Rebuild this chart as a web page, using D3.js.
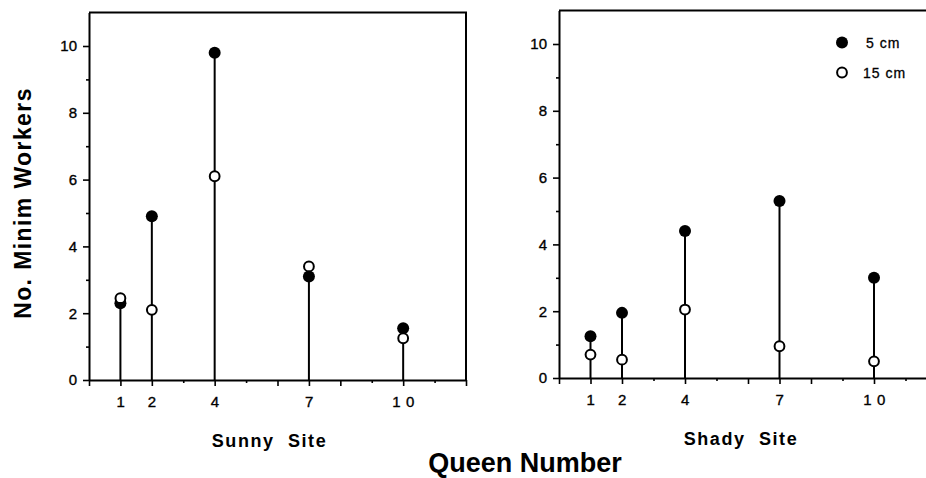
<!DOCTYPE html>
<html>
<head>
<meta charset="utf-8">
<script src="https://cdn.jsdelivr.net/npm/d3@7"></script>
<style>
  body { margin: 0; background: #fff; }
  text { font-family: "Liberation Sans", Arial, Helvetica, sans-serif; fill: #000; }
</style>
</head>
<body>
<svg width="926" height="478"></svg>
<script>
// queen numbers on the x axis, and the minim worker counts
var queens = [1, 2, 4, 7, 10];
var queenLabels = ["1", "2", "4", "7", "1 0"];
var sunny5 = [2.3, 4.9, 9.8, 3.1, 1.55];
var sunny15 = [2.45, 2.1, 6.1, 3.4, 1.25];
var shady5 = [1.25, 1.95, 4.4, 5.3, 3.0];
var shady15 = [0.7, 0.55, 2.05, 0.95, 0.5];
var yLabelTicks = [0, 2, 4, 6, 8, 10];
var legendLabels = ["5 cm", "15 cm"];

var svg = d3.select("svg");

function panel(opts){
    var x = d3.scaleLinear().domain([0, 12]).range([opts.x0, opts.x1]),
        y = d3.scaleLinear().domain([0, 11]).range([opts.y0, opts.y0 - 11 * opts.unit]);
    var g = svg.append("g");

    var allX = d3.range(0, 13),
        longX = allX.filter(function(d){ return d % 2 == 0 || queens.indexOf(d) >= 0 }),
        shortX = allX.filter(function(d){ return longX.indexOf(d) < 0 }),
        minorY = d3.range(1, 11, 2);

    // box: top and right edge
    g.append("path")
        .attr("d", "M" + x(0) + "," + y(11) + "H" + x(12) + "V" + y(0))
        .attr("fill", "none").attr("stroke", "#000").attr("stroke-width", 2);

    var xAx = g.append("g").attr("transform", "translate(0," + y(0) + ")")
        .call(d3.axisBottom(x).tickValues(longX).tickSize(6).tickSizeOuter(0)
            .tickFormat(function(d){ var i = queens.indexOf(d); return i >= 0 ? queenLabels[i] : "" }).tickPadding(10));
    g.append("g").attr("transform", "translate(0," + y(0) + ")")
        .call(d3.axisBottom(x).tickValues(shortX).tickSize(3).tickFormat(""))
        .select(".domain").remove();

    var yAx = g.append("g").attr("transform", "translate(" + x(0) + ",0)")
        .call(d3.axisLeft(y).tickValues(yLabelTicks).tickSize(6).tickSizeOuter(0).tickPadding(6));
    g.append("g").attr("transform", "translate(" + x(0) + ",0)")
        .call(d3.axisLeft(y).tickValues(minorY).tickSize(3).tickFormat(""))
        .select(".domain").remove();

    g.selectAll(".domain").attr("stroke-width", 2);
    g.selectAll(".tick line").attr("stroke-width", 1.6);
    g.selectAll(".tick text")
        .style("font-size", "15px").attr("stroke", "#000").attr("stroke-width", 0.35)
        .style("font-family", "Liberation Sans, Arial, sans-serif");
    xAx.selectAll(".tick text").attr("dy", "0.71em").attr("letter-spacing", 0.6);

    var rows = queens.map(function(q, i){ return { q: q, a: opts.v5[i], b: opts.v15[i] } });

    g.selectAll(".stem").data(rows).enter().append("line")
        .attr("x1", function(d){ return x(d.q) }).attr("x2", function(d){ return x(d.q) })
        .attr("y1", y(0)).attr("y2", function(d){ return y(Math.max(d.a, d.b)) })
        .attr("stroke", "#000").attr("stroke-width", 2);

    g.selectAll(".full").data(rows).enter().append("circle")
        .attr("cx", function(d){ return x(d.q) }).attr("cy", function(d){ return y(d.a) })
        .attr("r", 6).attr("fill", "#000");
    g.selectAll(".open").data(rows).enter().append("circle")
        .attr("cx", function(d){ return x(d.q) }).attr("cy", function(d){ return y(d.b) })
        .attr("r", 4.9).attr("fill", "#fff").attr("stroke", "#000").attr("stroke-width", 2);

    g.append("text")
        .attr("x", (x(0) + x(12)) / 2 + opts.titleShift).attr("y", opts.y0 + 67)
        .attr("text-anchor", "middle").attr("font-size", 18).attr("font-weight", "bold")
        .attr("letter-spacing", 1.6).style("white-space", "pre")
        .text(opts.title);

    return { x: x, y: y, g: g };
}

var left = panel({ x0: 89, x1: 466, y0: 380, unit: 33.4, v5: sunny5, v15: sunny15, title: "Sunny  Site", titleShift: -8 });
var right = panel({ x0: 559, x1: 937, y0: 378, unit: 33.4, v5: shady5, v15: shady15, title: "Shady  Site", titleShift: -7 });

// legend
var leg = svg.append("g");
[0, 1].forEach(function(i){
    var cy = 42.5 + i * 30;
    leg.append("circle").attr("cx", 842).attr("cy", cy).attr("r", i == 0 ? 6 : 4.9)
        .attr("fill", i == 0 ? "#000" : "#fff").attr("stroke", "#000").attr("stroke-width", i == 0 ? 0 : 2);
    leg.append("text").attr("x", i == 0 ? 866 : 863).attr("y", cy + 5)
        .attr("font-size", 14).attr("letter-spacing", 1)
        .attr("stroke", "#000").attr("stroke-width", 0.3)
        .text(legendLabels[i]);
});

svg.append("text")
    .attr("x", 525).attr("y", 472)
    .attr("text-anchor", "middle").attr("font-size", 27).attr("font-weight", "bold")
    .text("Queen Number");

svg.append("text")
    .attr("transform", "translate(31,203) rotate(-90)")
    .attr("text-anchor", "middle").attr("font-size", 23).attr("font-weight", "bold")
    .attr("letter-spacing", 1.4)
    .text("No. Minim Workers");
</script>
</body>
</html>
